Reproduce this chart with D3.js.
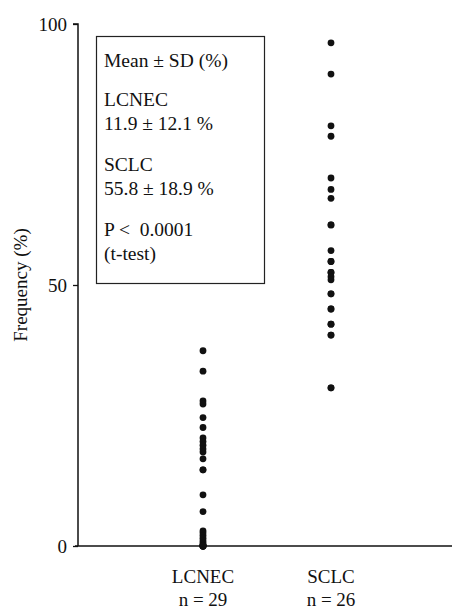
<!DOCTYPE html>
<html><head><meta charset="utf-8">
<script src="https://cdn.jsdelivr.net/npm/d3@7"></script>
<style>body{margin:0;background:#fff}svg{display:block}</style>
</head><body><svg id="c" width="453" height="613"></svg>
<script>
const categories = ["LCNEC", "SCLC"];
const groupSizes = ["n = 29", "n = 26"];
const lcnecValues = [37.4, 33.5, 27.8, 27.2, 24.6, 22.7, 20.7, 20.0, 19.3, 18.6, 18.0, 16.7, 14.6, 14.6, 9.8, 6.6, 2.9, 2.5, 2.0, 1.5, 1.0, 0.6, 0.3, 0, 0, 0, 0, 0, 0];
const sclcValues = [96.4, 90.4, 80.5, 78.5, 70.5, 68.3, 66.6, 61.5, 61.5, 56.6, 54.5, 54.5, 52.4, 52.4, 51.6, 51.0, 48.3, 48.3, 45.4, 45.4, 42.5, 42.5, 40.4, 40.4, 30.3, 30.3];
const yTicks = [0, 50, 100];
const boxLines = ["Mean \u00B1 SD (%)", "LCNEC", "11.9 \u00B1 12.1 %", "SCLC", "55.8 \u00B1 18.9 %", "P < \u00A00.0001", "(t-test)"];

const FONT = "'Liberation Serif', 'Times New Roman', Times, 'DejaVu Serif', serif";
const svg = d3.select("#c").attr("font-family", FONT);
const y = d3.scaleLinear().domain([0, 100]).range([546, 24]);
const x = d3.scalePoint().domain(categories).range([203, 331]);
const axisX = 78;

// y axis
const ya = svg.append("g").attr("transform", `translate(${axisX},0)`)
  .call(d3.axisLeft(y).tickValues(yTicks).tickSize(5).tickPadding(6).tickFormat(d3.format("d")));
ya.attr("font-family", FONT);
ya.select(".domain").attr("stroke", "#111").attr("stroke-width", 1.5).attr("d", `M-5,${y(100)}H0V${y(0)}`);
ya.selectAll(".tick line").attr("stroke", "#111").attr("stroke-width", 1.3);
ya.selectAll(".tick text").attr("font-size", 19).attr("font-family", FONT).attr("fill", "#111");

// x axis line
svg.append("line").attr("x1", axisX - 3).attr("x2", 452).attr("y1", y(0)).attr("y2", y(0))
  .attr("stroke", "#111").attr("stroke-width", 1.5);

// y label
svg.append("text").attr("transform", `translate(27,${y(50)}) rotate(-90)`)
  .attr("text-anchor", "middle").attr("font-size", 19).attr("font-family", FONT).attr("fill", "#111").text("Frequency (%)");

// category labels
categories.forEach((c, i) => {
  svg.append("text").attr("x", x(c)).attr("y", 583).attr("text-anchor", "middle").attr("font-size", 19).attr("font-family", FONT).attr("fill", "#111").text(c);
  svg.append("text").attr("x", x(c)).attr("y", 606).attr("text-anchor", "middle").attr("font-size", 19).attr("font-family", FONT).attr("fill", "#111").text(groupSizes[i]);
});

// dots
const series = [lcnecValues, sclcValues];
series.forEach((vals, i) => {
  svg.append("g").selectAll("circle").data(vals).join("circle")
    .attr("cx", x(categories[i])).attr("cy", d => y(d)).attr("r", 3.4).attr("fill", "#111");
});

// stats box
svg.append("rect").attr("x", 96.5).attr("y", 36.5).attr("width", 168).attr("height", 247)
  .attr("fill", "none").attr("stroke", "#222").attr("stroke-width", 1.2);
const baselines = [67, 106, 130, 171, 195, 236, 260];
boxLines.forEach((t, i) => {
  svg.append("text").attr("x", 104).attr("y", baselines[i]).attr("font-size", 19.5).attr("font-family", FONT).attr("fill", "#111").text(t);
});
</script></body></html>
